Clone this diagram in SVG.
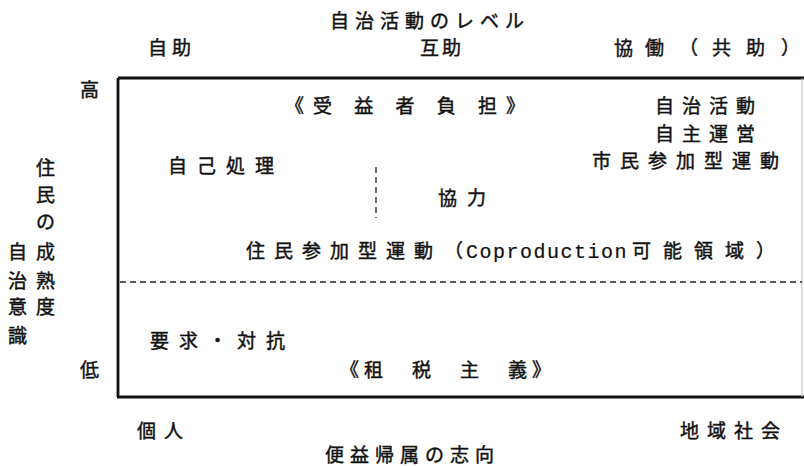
<svg xmlns="http://www.w3.org/2000/svg" width="804" height="466" viewBox="0 0 804 466">
<style>
text{font-family:"Noto Sans CJK JP","Liberation Serif",sans-serif;font-size:19px;fill:#111;stroke:#111;stroke-width:0.45;}
.mono{font-family:"Liberation Mono","Noto Sans CJK JP",monospace;font-size:20px;stroke-width:0.2;}
.frame{stroke:#111;stroke-width:2.8;fill:none;}
.dash{stroke:#222;stroke-width:1.3;stroke-dasharray:6 4;fill:none;}
</style>
<rect width="804" height="466" fill="#fff"/>
<g id="frame">
<line class="frame" x1="118" y1="78" x2="804" y2="78"/>
<line class="frame" x1="118" y1="78" x2="118" y2="397"/>
<line class="frame" x1="117" y1="397" x2="804" y2="397"/>
<line x1="802" y1="78" x2="802" y2="397" stroke="#bbb" stroke-width="1"/>
</g>
<g id="connectors">
<line class="dash" x1="120" y1="282" x2="802" y2="282"/>
<line class="dash" x1="376" y1="167" x2="376" y2="218"/>
</g>
<g id="top-axis">
<text x="330" y="28" letter-spacing="6">自治活動のレベル</text>
<text x="148" y="55" letter-spacing="5">自助</text>
<text x="420" y="55" letter-spacing="3">互助</text>
<text x="614 645 679 712 746 781" y="55">協働（共助）</text>
</g>
<g id="left-axis">
<text x="80" y="97">高</text>
<text x="80" y="377">低</text>
<text x="36" y="175">住</text>
<text x="36" y="202">民</text>
<text x="36" y="229">の</text>
<text x="8" y="259">自</text>
<text x="36" y="259">成</text>
<text x="8" y="288">治</text>
<text x="36" y="288">熟</text>
<text x="8" y="314">意</text>
<text x="36" y="314">度</text>
<text x="8" y="343">識</text>
</g>
<g id="n-jueki">
<text x="285" y="113" letter-spacing="9">《受 益 者 負 担》</text>
</g>
<g id="n-jichi">
<text x="655" y="113" letter-spacing="8">自治活動</text>
<text x="655" y="141" letter-spacing="8">自主運営</text>
<text x="592" y="168" letter-spacing="9">市民参加型運動</text>
</g>
<g id="n-jiko">
<text x="168" y="173" letter-spacing="10">自己処理</text>
</g>
<g id="n-kyoryoku">
<text x="438" y="205" letter-spacing="10">協力</text>
</g>
<g id="n-coproduction">
<text y="258"><tspan x="246" letter-spacing="9">住民参加型運動</tspan><tspan x="444">（</tspan><tspan x="466" class="mono" letter-spacing="1.5">Coproduction</tspan><tspan x="632" letter-spacing="12">可能領域）</tspan></text>
</g>
<g id="n-yokyu">
<text x="150" y="348" letter-spacing="10">要求・対抗</text>
</g>
<g id="n-sozei">
<text x="340" y="377" letter-spacing="5">《租　税　主　義》</text>
</g>
<g id="bottom-axis">
<text x="137" y="438" letter-spacing="8">個人</text>
<text x="680" y="438" letter-spacing="8">地域社会</text>
<text x="325" y="462" letter-spacing="6">便益帰属の志向</text>
</g>
</svg>
